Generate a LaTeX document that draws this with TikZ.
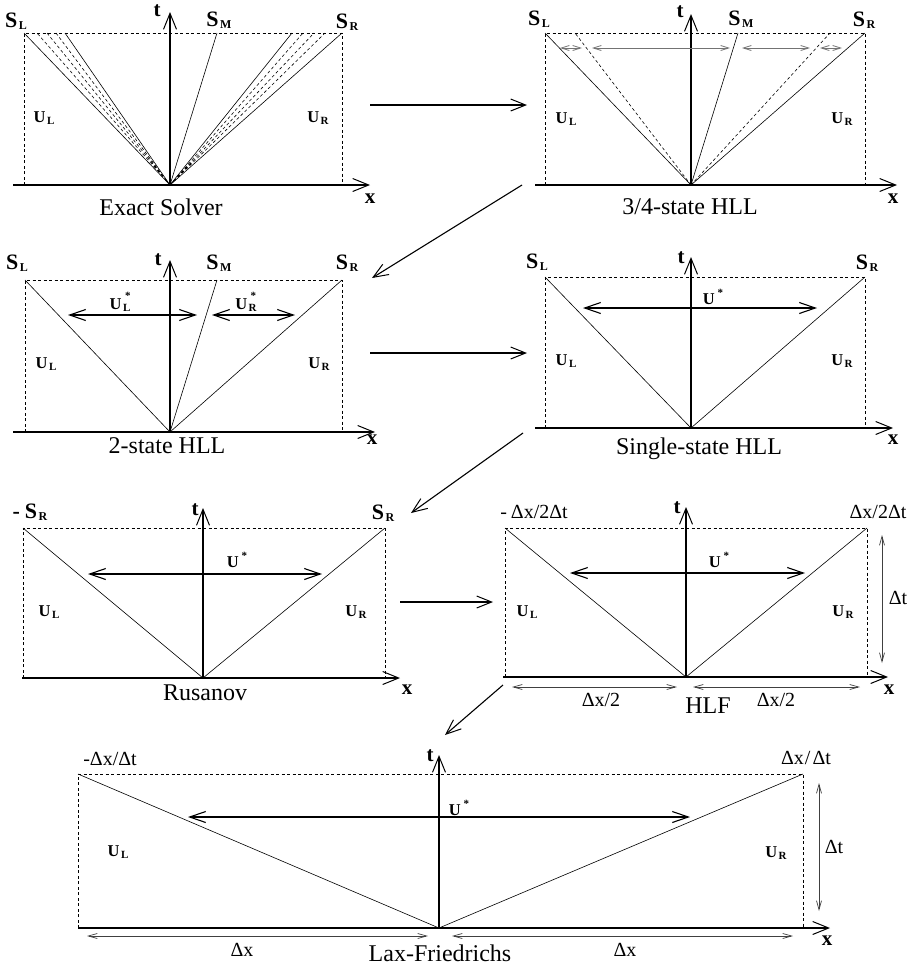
\documentclass[tikz,border=0pt]{standalone}
\usepackage{fontspec}
\setmainfont{Liberation Serif}
\usetikzlibrary{arrows.meta}
\newcommand\lsub[3]{#1\kern1.5pt\raisebox{-0.25ex}{\fontsize{#3}{#3}\selectfont #2}}
\newcommand\ustar{U\kern3pt\raisebox{1.1ex}{\fontsize{11}{11}\selectfont *}}
\newcommand\ustarsub[1]{U\kern1.5pt\rlap{\raisebox{1.3ex}{\fontsize{11}{11}\selectfont\kern2pt *}}\raisebox{-0.25ex}{\fontsize{11}{11}\selectfont #1}}
\tikzset{
  ln/.style={line width=0.6pt},
  dln/.style={line width=0.6pt, dash pattern=on 3pt off 2.5pt},
  axis/.style={line width=1.1pt, -{Straight Barb[length=16pt,width=13pt,line width=1pt]}},
  flow/.style={line width=1.1pt, -{Straight Barb[length=15pt,width=12pt,line width=1pt]}},
  star arrow/.style={line width=1.3pt, {Straight Barb[length=16pt,width=11pt,line width=1.1pt]}-{Straight Barb[length=16pt,width=11pt,line width=1.1pt]}},
  gray arrow/.style={line width=0.8pt, black!55, {Straight Barb[length=8pt,width=5pt]}-{Straight Barb[length=8pt,width=5pt]}},
  dim arrow/.style={line width=0.7pt, black!75, {Straight Barb[length=9pt,width=5pt]}-{Straight Barb[length=9pt,width=5pt]}},
  slab/.style={font=\fontsize{22}{23}\selectfont\bfseries, inner sep=0},
  ulab/.style={font=\fontsize{16.5}{17}\selectfont\bfseries, inner sep=0},
  tlab/.style={font=\fontsize{21}{22}\selectfont\bfseries, inner sep=0},
  captext/.style={font=\fontsize{24}{26}\selectfont, inner sep=0},
  dlab/.style={font=\fontsize{20}{22}\selectfont, inner sep=0},
}
\begin{document}
\begin{tikzpicture}[x=1pt,y=-1pt]
\useasboundingbox (0,0) rectangle (923,967);
\fill[white] (0,0) rectangle (923,967);

% ---------------- Panel 1: Exact Solver
\coordinate (o1) at (170,185);
\draw[dln] (24,185) -- (24,33) -- (342,33) -- (342,185);
\draw[ln] (o1) -- (24,33) (o1) -- (65,33) (o1) -- (292,33) (o1) -- (342,33) (o1) -- (217,33);
\draw[dln] (o1) -- (37,33) (o1) -- (47,33) (o1) -- (56,33)
           (o1) -- (303,33) (o1) -- (314,33) (o1) -- (325,33);
\draw[axis] (13,185) -- (370,185);
\draw[axis] (o1) -- (170,12);
\node[slab] (p1sl) at (16,21) {\lsub{S}{L}{12}};
\node[tlab] (p1t) at (157,11) {t};
\node[slab] (p1sm) at (219,20) {\lsub{S}{M}{12}};
\node[slab] (p1sr) at (347,22) {\lsub{S}{R}{12}};
\node[ulab] (p1ul) at (44,118) {\lsub{U}{L}{11}};
\node[ulab] (p1ur) at (318,118) {\lsub{U}{R}{11}};
\node[tlab] (p1x) at (370,199) {x};
\node[captext] (p1c) at (161,207) {Exact Solver};

% ---------------- Panel 2: 3/4-state HLL
\coordinate (o2) at (691,185);
\draw[dln] (545,185) -- (545,33) -- (865,33) -- (865,185);
\draw[ln] (o2) -- (545,33) (o2) -- (738,33) (o2) -- (865,33);
\draw[dln] (o2) -- (575,33) (o2) -- (830,33);
\draw[axis] (535,185) -- (897,185);
\draw[axis] (o2) -- (691,14);
\draw[gray arrow] (560,48) -- (582,48);
\draw[gray arrow] (592,48) -- (730,48);
\draw[gray arrow] (742,48) -- (810,48);
\draw[gray arrow] (820,48) -- (842,48);
\node[slab] (p2sl) at (539,19) {\lsub{S}{L}{12}};
\node[tlab] (p2t) at (680,12) {t};
\node[slab] (p2sm) at (741,19) {\lsub{S}{M}{12}};
\node[slab] (p2sr) at (864,20) {\lsub{S}{R}{12}};
\node[ulab] (p2ul) at (566,119) {\lsub{U}{L}{11}};
\node[ulab] (p2ur) at (842,119) {\lsub{U}{R}{11}};
\node[tlab] (p2x) at (893,199) {x};
\node[captext] (p2c) at (690,207) {3/4-state HLL};

% ---------------- Panel 3: 2-state HLL
\coordinate (o3) at (170,432);
\draw[dln] (25,432) -- (25,280) -- (342,280) -- (342,432);
\draw[ln] (o3) -- (25,280) (o3) -- (217,280) (o3) -- (342,280);
\draw[axis] (13,432) -- (375,432);
\draw[axis] (o3) -- (170,260);
\draw[star arrow] (68,315) -- (197,315);
\draw[star arrow] (212,315) -- (295,315);
\node[slab] (p3sl) at (17,263) {\lsub{S}{L}{12}};
\node[tlab] (p3t) at (158,260) {t};
\node[slab] (p3sm) at (219,263) {\lsub{S}{M}{12}};
\node[slab] (p3sr) at (347,263) {\lsub{S}{R}{12}};
\node[ulab] (p3uls) at (120,302) {\ustarsub{L}};
\node[ulab] (p3urs) at (246,302) {\ustarsub{R}};
\node[ulab] (p3ul) at (46,364) {\lsub{U}{L}{11}};
\node[ulab] (p3ur) at (319,364) {\lsub{U}{R}{11}};
\node[tlab] (p3x) at (372,440) {x};
\node[captext] (p3c) at (167,446) {2-state HLL};

% ---------------- Panel 4: Single-state HLL
\coordinate (o4) at (691,428);
\draw[dln] (545,428) -- (545,277) -- (865,277) -- (865,428);
\draw[ln] (o4) -- (545,277) (o4) -- (865,277);
\draw[axis] (535,428) -- (893,428);
\draw[axis] (o4) -- (691,257);
\draw[star arrow] (583,308) -- (817,308);
\node[slab] (p4sl) at (537,262) {\lsub{S}{L}{12}};
\node[tlab] (p4t) at (681,258) {t};
\node[slab] (p4sr) at (867,263) {\lsub{S}{R}{12}};
\node[ulab] (p4us) at (713,297) {\ustar};
\node[ulab] (p4ul) at (566,361) {\lsub{U}{L}{11}};
\node[ulab] (p4ur) at (842,361) {\lsub{U}{R}{11}};
\node[tlab] (p4x) at (893,440) {x};
\node[captext] (p4c) at (699,449) {Single-state HLL};

% ---------------- Panel 5: Rusanov
\coordinate (o5) at (203,678);
\draw[dln] (23,678) -- (23,528) -- (385,528) -- (385,678);
\draw[ln] (o5) -- (23,528) (o5) -- (385,528);
\draw[axis] (22,678) -- (400,678);
\draw[axis] (o5) -- (203,508);
\draw[star arrow] (88,574) -- (322,574);
\node[slab] (p5sl) at (30,512) {-\kern5pt\lsub{S}{R}{12}};
\node[tlab] (p5t) at (195,510) {t};
\node[slab] (p5sr) at (383,513) {\lsub{S}{R}{12}};
\node[ulab] (p5us) at (237,560) {\ustar};
\node[ulab] (p5ul) at (49,612) {\lsub{U}{L}{11}};
\node[ulab] (p5ur) at (356,612) {\lsub{U}{R}{11}};
\node[tlab] (p5x) at (407,690) {x};
\node[captext] (p5c) at (205,693) {Rusanov};

% ---------------- Panel 6: HLF
\coordinate (o6) at (686,677);
\draw[dln] (505,677) -- (505,528) -- (867,528) -- (867,677);
\draw[ln] (o6) -- (505,528) (o6) -- (867,528);
\draw[axis] (503,677) -- (888,677);
\draw[axis] (o6) -- (686,507);
\draw[star arrow] (570,573) -- (805,573);
\draw[dim arrow] (882,535) -- (882,663);
\draw[dim arrow] (512,687) -- (677,687);
\draw[dim arrow] (693,687) -- (860,687);
\node[dlab] (p6sl) at (534,512) {-\kern4ptΔx/2Δt};
\node[tlab] (p6t) at (677,508) {t};
\node[dlab] (p6sr) at (878,512) {Δx/2Δt};
\node[ulab] (p6us) at (719,560) {\ustar};
\node[ulab] (p6ul) at (527,612) {\lsub{U}{L}{11}};
\node[ulab] (p6ur) at (843,612) {\lsub{U}{R}{11}};
\node[dlab] (p6dt) at (898,598) {Δt};
\node[tlab] (p6x) at (889,690) {x};
\node[dlab] (p6dxl) at (601,700) {Δx/2};
\node[dlab] (p6dxr) at (776,700) {Δx/2};
\node[captext] (p6c) at (708,706) {HLF};

% ---------------- Panel 7: Lax-Friedrichs
\coordinate (o7) at (439,928);
\draw[dln] (78,928) -- (78,774) -- (803,774) -- (803,928);
\draw[ln] (o7) -- (78,774) (o7) -- (803,774);
\draw[axis] (78,928) -- (830,928);
\draw[axis] (o7) -- (439,755);
\draw[star arrow] (188,817) -- (690,817);
\draw[dim arrow] (819,783) -- (819,911);
\draw[dim arrow] (87,936) -- (428,936);
\draw[dim arrow] (452,936) -- (793,936);
\node[dlab] (p7sl) at (110,759) {-Δx/Δt};
\node[tlab] (p7t) at (430,756) {t};
\node[dlab] (p7sr) at (806,758) {Δx\kern1pt/\kern2ptΔt};
\node[ulab] (p7us) at (459,808) {\ustar};
\node[ulab] (p7ul) at (118,852) {\lsub{U}{L}{11}};
\node[ulab] (p7ur) at (776,853) {\lsub{U}{R}{11}};
\node[dlab] (p7dt) at (834,847) {Δt};
\node[tlab] (p7x) at (827,941) {x};
\node[dlab] (p7dxl) at (242,950) {Δx};
\node[dlab] (p7dxr) at (625,950) {Δx};
\node[captext] (p7c) at (440,953) {Lax-Friedrichs};

% ---------------- connectors between panels
\coordinate (c1s) at (370,105); \coordinate (c1e) at (527,105);
\coordinate (c2s) at (522,185); \coordinate (c2e) at (372,278);
\coordinate (c3s) at (370,353); \coordinate (c3e) at (527,353);
\coordinate (c4s) at (523,433); \coordinate (c4e) at (411,513);
\coordinate (c5s) at (400,602); \coordinate (c5e) at (493,602);
\coordinate (c6s) at (503,685); \coordinate (c6e) at (445,735);
\draw[flow] (c1s) -- (c1e);
\draw[flow] (c2s) -- (c2e);
\draw[flow] (c3s) -- (c3e);
\draw[flow] (c4s) -- (c4e);
\draw[flow] (c5s) -- (c5e);
\draw[flow] (c6s) -- (c6e);
\end{tikzpicture}
\end{document}
